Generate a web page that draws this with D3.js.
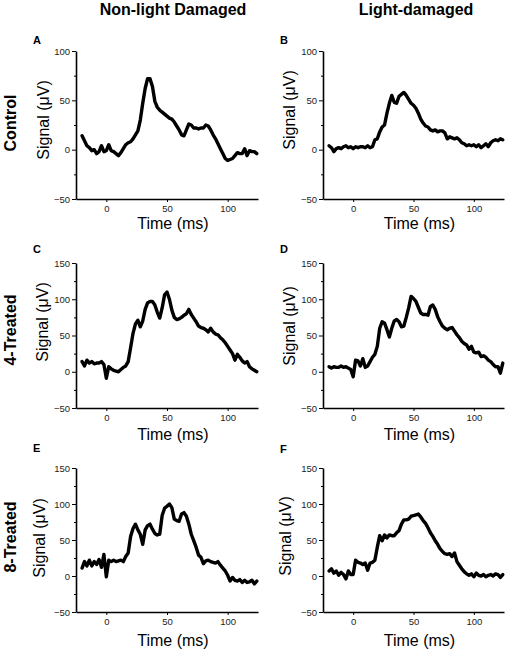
<!DOCTYPE html>
<html><head><meta charset="utf-8">
<script src="https://cdn.jsdelivr.net/npm/d3@7"></script>
<style>body{margin:0;background:#fff}svg{display:block}</style>
</head><body>
<svg id="c" width="510" height="653"></svg>
<script>
// ---------- data ----------
const columnTitles = ["Non-light Damaged", "Light-damaged"];
const rowTitles = ["Control", "4-Treated", "8-Treated"];
const panelLetters = ["A", "B", "C", "D", "E", "F"];
const xTicks = [0, 50, 100];
const yTicksRow1 = [-50, 0, 50, 100];
const yTicksRow23 = [-50, 0, 50, 100, 150];
const yMinorRow1 = [-25, 25, 75];
const yMinorRow23 = [-25, 25, 75, 125];
const xLabel = "Time (ms)";
const yLabel = "Signal (\u03BCV)";

const timeMs = [-20,-18,-16,-14,-12,-10,-8,-6,-4,-2,0,2,4,6,8,10,12,14,16,18,20,22,24,26,28,30,32,34,36,38,40,42,44,46,48,50,52,54,56,58,60,62,64,66,68,70,72,74,76,78,80,82,84,86,88,90,92,94,96,98,100,102,104,106,108,110,112,114,116,118,120,122,124];

const sigA = [14,9,4,2,-1,0,-4,-2,4,-2,-1,5,-1,-2,-4,-6,-3,1,5,7,8,11,15,19,30,47,62,72,72,64,49,43,40,38,36,34,32,31,28,24,20,15,14,20,26,25,22,22,21,22,22,25,24,20,15,11,6,1,-4,-9,-11,-10,-9,-6,-3,-4,-4,1,-6,-1,-2,-2,-4];
const sigB = [4,2,-2,1,2,1,3,4,2,3,1,3,2,3,3,2,4,2,3,10,11,18,23,25,37,47,55,48,47,54,56,58,55,51,47,45,42,37,31,27,24,23,20,19,20,18,19,19,17,11,13,12,11,12,10,7,6,4,5,4,5,3,5,2,4,6,3,7,9,10,9,11,10];
const sigC = [14,8,16,12,14,11,12,12,14,10,-9,7,4,2,1,0,3,6,8,14,33,53,66,71,62,70,86,95,97,97,92,82,74,88,106,110,100,85,75,72,73,75,78,80,86,79,74,69,63,61,60,58,55,60,55,52,51,47,44,40,35,30,25,16,24,20,15,12,14,7,4,2,0];
const sigD = [7,5,7,6,6,8,6,7,5,3,-7,16,15,8,18,6,8,14,20,24,35,60,69,67,58,48,60,70,72,69,62,63,75,88,104,101,97,89,81,79,79,78,90,92,86,76,69,63,60,58,60,61,56,51,47,42,39,37,31,35,27,26,27,21,22,20,16,14,10,7,7,-2,12];
const sigE = [11,20,14,22,14,20,16,23,12,30,-1,22,20,22,20,21,22,20,27,32,55,66,72,64,58,44,64,70,72,65,59,57,58,84,94,97,100,95,79,77,76,86,88,83,72,58,49,40,29,26,17,21,22,20,19,18,20,15,11,7,1,-7,-2,-6,-7,-5,-9,-6,-9,-8,-6,-11,-7];
const sigF = [7,10,4,7,1,5,2,-4,7,2,2,22,19,18,16,18,8,18,19,22,40,56,49,57,53,57,56,56,60,63,72,78,78,79,83,84,85,86,82,77,73,67,60,55,49,44,38,34,31,30,31,27,32,20,15,10,6,3,1,3,-1,4,1,0,2,-1,1,2,0,3,2,-2,2];

const panelSeries = [sigA, sigB, sigC, sigD, sigE, sigF];

// ---------- layout ----------
const colX = [[76, 258], [323, 504]];
const rowY = [[199, 51], [408, 263], [612, 468]];
const rowDomains = [[-50, 100], [-50, 150], [-50, 150]];
const rowMajor = [yTicksRow1, yTicksRow23, yTicksRow23];
const rowMinor = [yMinorRow1, yMinorRow23, yMinorRow23];
const letterPos = [[33, 44], [280, 44], [33, 253], [280, 253], [33, 452], [280, 453]];
const yLabelPos = [[49, 120], [295, 110], [48, 322], [295, 326], [45, 538], [291, 536]];
const xLabelBase = [229, 440, 646];
const rowTitleY = [123, 330, 537];
const colTitleX = [173, 416];

const font = "'Liberation Sans', Arial, Helvetica, sans-serif";
const svg = d3.select("#c").style("font-family", font);

// titles
svg.selectAll("text.coltitle").data(columnTitles).join("text")
  .attr("class", "coltitle")
  .attr("x", (d, i) => colTitleX[i]).attr("y", 15)
  .attr("text-anchor", "middle").attr("font-weight", "bold").attr("font-size", 16)
  .text(d => d);

svg.selectAll("text.rowtitle").data(rowTitles).join("text")
  .attr("class", "rowtitle")
  .attr("transform", (d, i) => `translate(16,${rowTitleY[i]}) rotate(-90)`)
  .attr("text-anchor", "middle").attr("font-weight", "bold").attr("font-size", 16)
  .text(d => d);

panelSeries.forEach((vals, p) => {
  const r = Math.floor(p / 2), c = p % 2;
  const x = d3.scaleLinear().domain([-25, 125]).range(colX[c]);
  const y = d3.scaleLinear().domain(rowDomains[r]).range(rowY[r]);
  const g = svg.append("g");

  const ya = g.append("g").attr("transform", `translate(${colX[c][0]},0)`)
    .call(d3.axisLeft(y).tickValues(rowMajor[r]).tickSize(4).tickSizeOuter(0).tickPadding(2));
  const ym = g.append("g").attr("transform", `translate(${colX[c][0]},0)`)
    .call(d3.axisLeft(y).tickValues(rowMinor[r]).tickSize(2).tickSizeOuter(0).tickFormat(""));
  ym.select(".domain").remove();
  const xa = g.append("g").attr("transform", `translate(0,${rowY[r][0]})`)
    .call(d3.axisBottom(x).tickValues(xTicks).tickSize(3).tickSizeOuter(0).tickPadding(3));

  [ya, ym, xa].forEach(a => {
    a.selectAll(".domain").attr("stroke", "#000").attr("stroke-width", 1.6);
    a.selectAll(".tick line").attr("stroke", "#000").attr("stroke-width", 1);
    a.selectAll(".tick text").attr("font-family", font).attr("font-size", 9.5).attr("fill", "#222");
  });

  const line = d3.line().x((d, i) => x(timeMs[i])).y(d => y(d));
  g.append("path").datum(vals)
    .attr("d", line)
    .attr("fill", "none").attr("stroke", "#000")
    .attr("stroke-width", 3.4).attr("stroke-linejoin", "round").attr("stroke-linecap", "round");

  g.append("text").attr("x", letterPos[p][0]).attr("y", letterPos[p][1])
    .attr("font-weight", "bold").attr("font-size", 11).text(panelLetters[p]);

  g.append("text")
    .attr("transform", `translate(${yLabelPos[p][0]},${yLabelPos[p][1]}) rotate(-90)`)
    .attr("text-anchor", "middle").attr("font-size", 16).text(yLabel);
  g.append("text")
    .attr("x", (colX[c][0] + colX[c][1]) / 2 + 6).attr("y", xLabelBase[r])
    .attr("text-anchor", "middle").attr("font-size", 16).text(xLabel);
});
</script>
</body></html>
